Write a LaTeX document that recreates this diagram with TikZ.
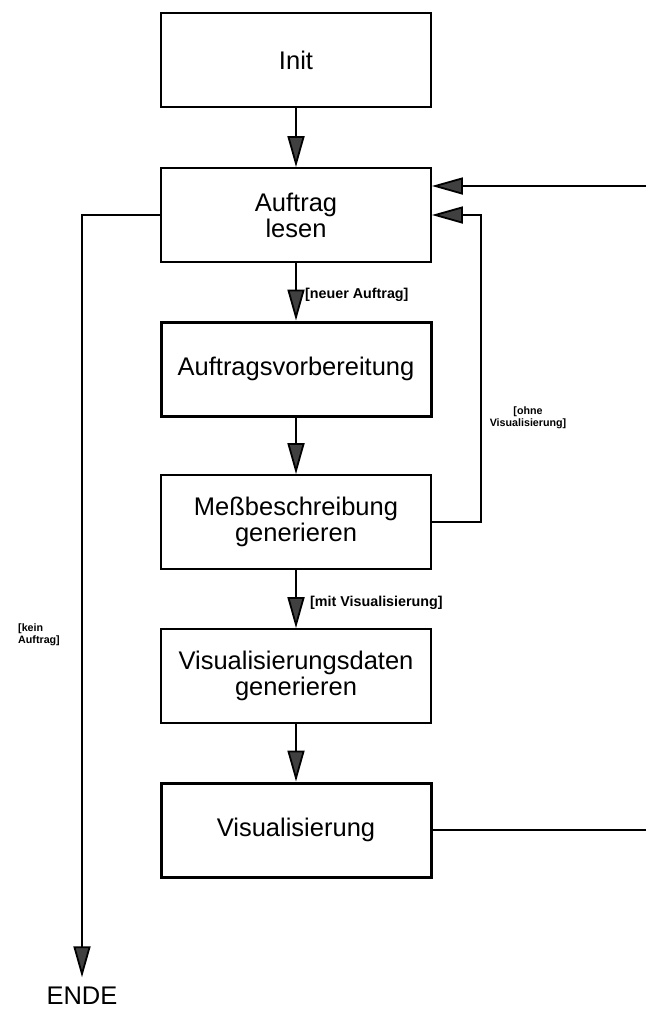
\documentclass[tikz,border=0pt]{standalone}
\usepackage{fontspec}
\setmainfont{Liberation Sans}
\usetikzlibrary{arrows.meta}
\begin{document}
\begin{tikzpicture}[x=1pt,y=-1pt,
  stepbox/.style={draw, line width=1.8pt, minimum width=270pt, minimum height=94pt,
    inner sep=0pt, align=center, font=\fontsize{25.5}{26}\selectfont},
  heavybox/.style={stepbox, line width=3pt},
  flow/.style={line width=1.8pt, -{Triangle[length=31pt,width=17pt,fill=black!75]}},
  link/.style={line width=1.8pt},
  guard/.style={font=\bfseries\fontsize{14.3}{15}\selectfont, inner sep=0pt},
  note/.style={font=\bfseries\fontsize{10.7}{12}\selectfont, inner sep=0pt, align=center},
]
\useasboundingbox (0,0) rectangle (646,1010);

% process steps
\node[stepbox]  (init)  at (296,60)  {Init};
\node[stepbox]  (lesen) at (296,215) {Auftrag\\lesen};
\node[heavybox] (vorb)  at (296,369) {Auftragsvorbereitung};
\node[stepbox]  (mess)  at (296,522) {Meßbeschreibung\\generieren};
\node[stepbox]  (visd)  at (296,676) {Visualisierungsdaten\\generieren};
\node[heavybox] (vis)   at (296,830) {Visualisierung};
\node[font=\fontsize{25.5}{26}\selectfont, inner xsep=0pt, inner ysep=9pt, anchor=base]
  (ende) at (82,1004) {ENDE};

% loose ends of the return path
\coordinate (loopx)  at (481,522);
\coordinate (backin) at (646,186);
\coordinate (visout) at (646,830);

% main flow
\draw[flow] (init) -- (lesen);
\draw[flow] (lesen) -- (vorb);
\draw[flow] (vorb) -- (mess);
\draw[flow] (mess) -- (visd);
\draw[flow] (visd) -- (vis);

% branches
\draw[flow] (mess.east) -- (loopx) |- (lesen.east);
\draw[flow] (backin) -- (backin -| lesen.east);
\draw[link] (vis.east) -- (visout);
\draw[flow] (lesen.west) -| (ende.north);

% guards
\path (lesen.south) -- (vorb.north)
  node[guard, anchor=west, pos=0.55, xshift=9pt] (gneu) {[neuer Auftrag]};
\path (mess.south) -- (visd.north)
  node[guard, anchor=west, pos=0.57, xshift=14pt] (gmit) {[mit Visualisierung]};
\node[note] (gohne) at (528,418) {[ohne\\Visualisierung]};
\node[note, align=left, anchor=west] (gkein) at (18,635) {[kein\\Auftrag]};
\end{tikzpicture}
\end{document}
